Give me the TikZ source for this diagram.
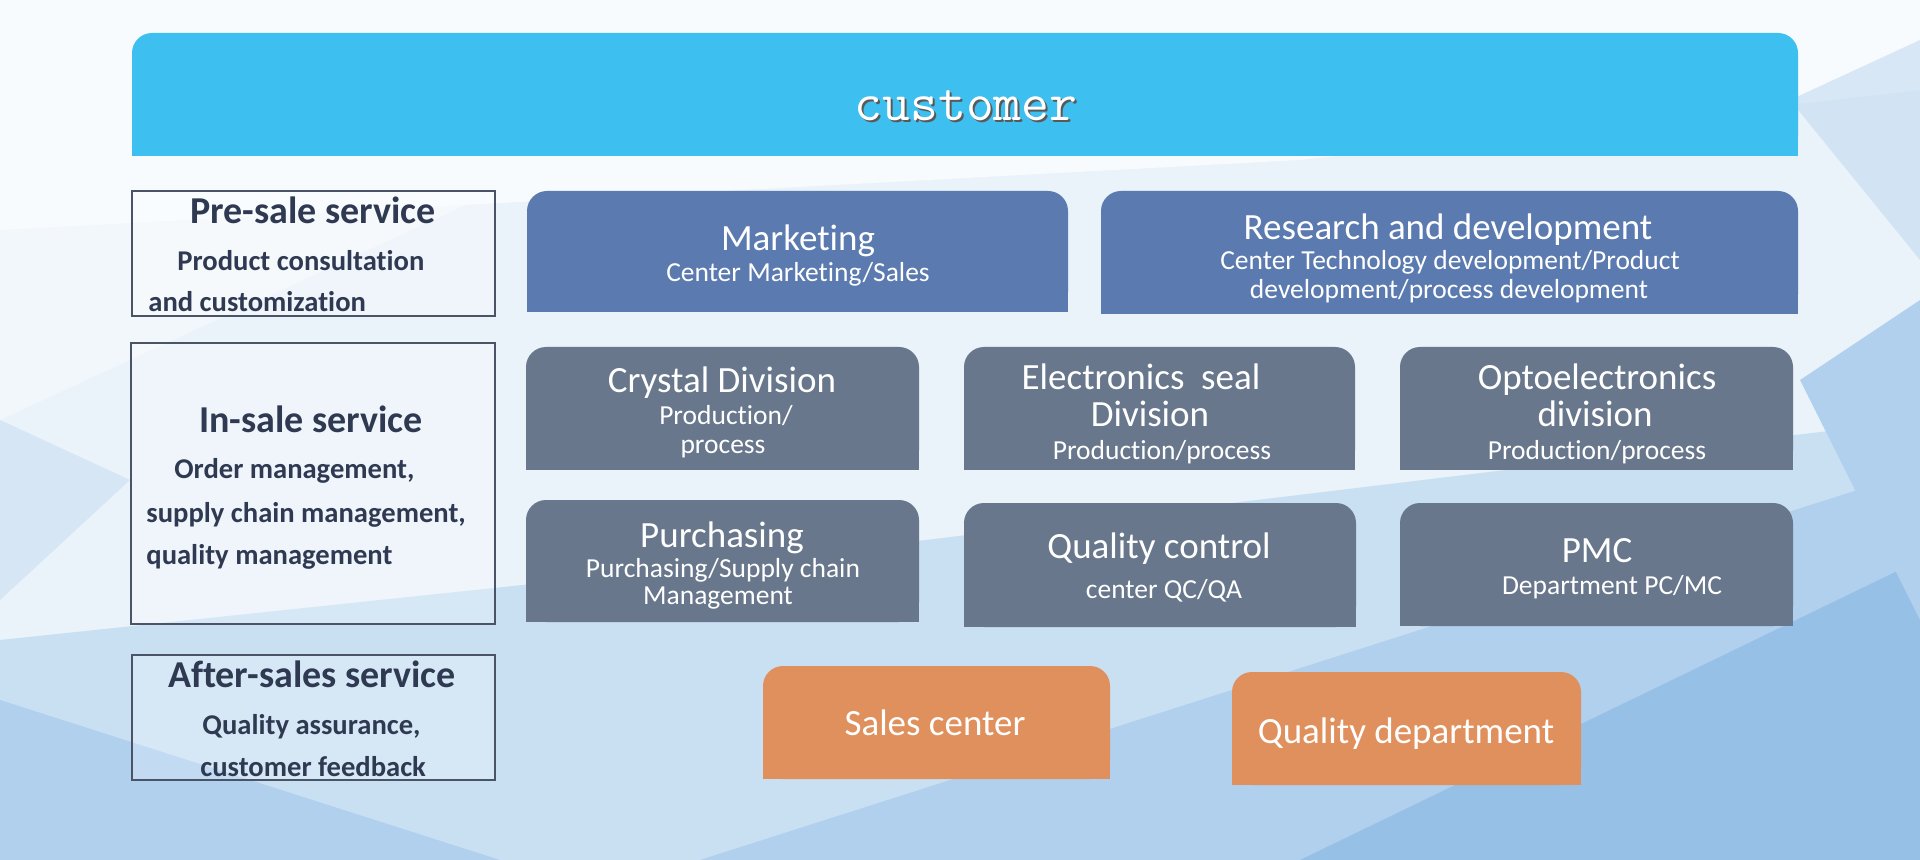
\documentclass[tikz,border=0pt]{standalone}
\usepackage{fontspec}
\setmainfont[Ligatures=NoCommon]{Carlito}
\definecolor{bgbase}{HTML}{EAF2FA}
\definecolor{bgwhite}{HTML}{F8FBFE}
\definecolor{bglight}{HTML}{C9DFF2}
\definecolor{bgmid}{HTML}{B0D0EE}
\definecolor{bgdark}{HTML}{96C0E6}
\definecolor{custblue}{HTML}{3DBFF0}
\definecolor{mkblue}{HTML}{5A7AB0}
\definecolor{slate}{HTML}{68778C}
\definecolor{orangebox}{HTML}{E0905C}
\definecolor{navy}{HTML}{2F3A52}
\definecolor{frame}{HTML}{4B5366}
\tikzset{
  tl/.style={anchor=base, inner sep=0pt, text=white, font=\fontsize{18.5pt}{21pt}\selectfont},
  sl/.style={anchor=base, inner sep=0pt, text=white, font=\fontsize{13.75pt}{16pt}\selectfont},
  lt/.style={anchor=base, inner sep=0pt, text=navy, font=\bfseries\fontsize{19pt}{22pt}\selectfont},
  ls/.style={anchor=base west, inner sep=0pt, text=navy, font=\bfseries\fontsize{14.3pt}{16pt}\selectfont},
  svcbox/.style={draw=frame, line width=1pt, fill=white, fill opacity=0.25},
}
\newcommand{\topbox}[5]{%
  \fill[#5, rounded corners=10pt] (#1,#2) rectangle (#3,#4);
  \fill[#5] (#1,#2+30) rectangle (#3,#4);
}
\begin{document}
\begin{tikzpicture}[x=0.5pt, y=-0.5pt]
\useasboundingbox (0,0) rectangle (1920,860);
% background
\fill[bgbase] (0,0) rectangle (1920,860);
\fill[bgwhite] (0,0) -- (1920,0) -- (1920,90) -- (1300,160) -- (0,230) -- cycle;
\fill[bgwhite, opacity=0.6] (0,230) -- (520,180) -- (0,420) -- cycle;
\fill[bglight] (0,640) -- (760,560) -- (1920,420) -- (1920,860) -- (0,860) -- cycle;
\fill[bgmid] (0,700) -- (500,860) -- (0,860) -- cycle;
\fill[bgmid] (700,860) -- (1920,470) -- (1920,860) -- cycle;
\fill[bgdark] (1300,860) -- (1920,560) -- (1920,860) -- cycle;
\fill[bgmid] (1800,380) -- (1920,300) -- (1920,620) -- cycle;
\fill[bglight, opacity=0.7] (1790,100) -- (1920,40) -- (1920,260) -- cycle;
\fill[bglight, opacity=0.6] (0,420) -- (130,480) -- (0,600) -- cycle;
% customer bar
\topbox{132}{33}{1798}{156}{custblue}
\node[anchor=base, inner sep=0pt, text=black!65, font=\ttfamily\fontsize{27pt}{30pt}\selectfont] (custshadow) at (968,123) {customer};
\node[anchor=base, inner sep=0pt, text=white, font=\ttfamily\fontsize{27pt}{30pt}\selectfont] (cust) at (966,121) {customer};
% service boxes
\draw[svcbox] (132,191) rectangle (495,316);
\draw[svcbox] (131,343) rectangle (495,624);
\draw[svcbox] (132,655) rectangle (495,780);
\node[lt] (pre1) at (313,224) {Pre-sale service};
\node[ls] (pre2) at (177,271) {Product consultation};
\node[ls] (pre3) at (148,312) {and customization};
\node[lt] (in1) at (311,433) {In-sale service};
\node[ls] (in2) at (174,479) {Order management,};
\node[ls] (in3) at (146,522) {supply chain management,};
\node[ls] (in4) at (146,564) {quality management};
\node[lt] (af1) at (312,687) {After-sales service};
\node[ls] (af2) at (202,734) {Quality assurance,};
\node[ls] (af3) at (200,776) {customer feedback};
% blue boxes
\topbox{527}{191}{1068}{312}{mkblue}
\node[tl] (mk1) at (798,251) {Marketing};
\node[sl] (mk2) at (798,282) {Center Marketing/Sales};
\topbox{1101}{191}{1798}{314}{mkblue}
\node[tl] (rd1) at (1448,240) {Research and development};
\node[sl] (rd2) at (1450,270) {Center Technology development/Product};
\node[sl] (rd3) at (1449,299) {development/process development};
% slate boxes row 1
\topbox{526}{347}{919}{470}{slate}
\node[tl] (cr1) at (722,393) {Crystal Division};
\node[sl] (cr2) at (726,425) {Production/};
\node[sl] (cr3) at (723,454) {process};
\topbox{964}{347}{1355}{470}{slate}
\node[tl] (el1) at (1141,390) {Electronics\ \ seal};
\node[tl] (el2) at (1150,427) {Division};
\node[sl] (el3) at (1162,459) {Production/process};
\topbox{1400}{347}{1793}{470}{slate}
\node[tl] (op1) at (1597,390) {Optoelectronics};
\node[tl] (op2) at (1595,427) {division};
\node[sl] (op3) at (1597,459) {Production/process};
% slate boxes row 2
\topbox{526}{500}{919}{622}{slate}
\node[tl] (pu1) at (722,547) {Purchasing};
\node[sl] (pu2) at (723,577) {Purchasing/Supply chain};
\node[sl] (pu3) at (718,604) {Management};
\topbox{964}{503}{1356}{627}{slate}
\node[tl] (qc1) at (1159,558) {Quality control};
\node[sl] (qc2) at (1164,598) {center QC/QA};
\topbox{1400}{503}{1793}{626}{slate}
\node[tl] (pm1) at (1597,562) {PMC};
\node[sl] (pm2) at (1612,594) {Department PC/MC};
% orange boxes
\topbox{763}{666}{1110}{779}{orangebox}
\node[tl] (sc) at (935,735) {Sales center};
\topbox{1232}{672}{1581}{785}{orangebox}
\node[tl] (qd) at (1406,743) {Quality department};
\end{tikzpicture}
\end{document}
